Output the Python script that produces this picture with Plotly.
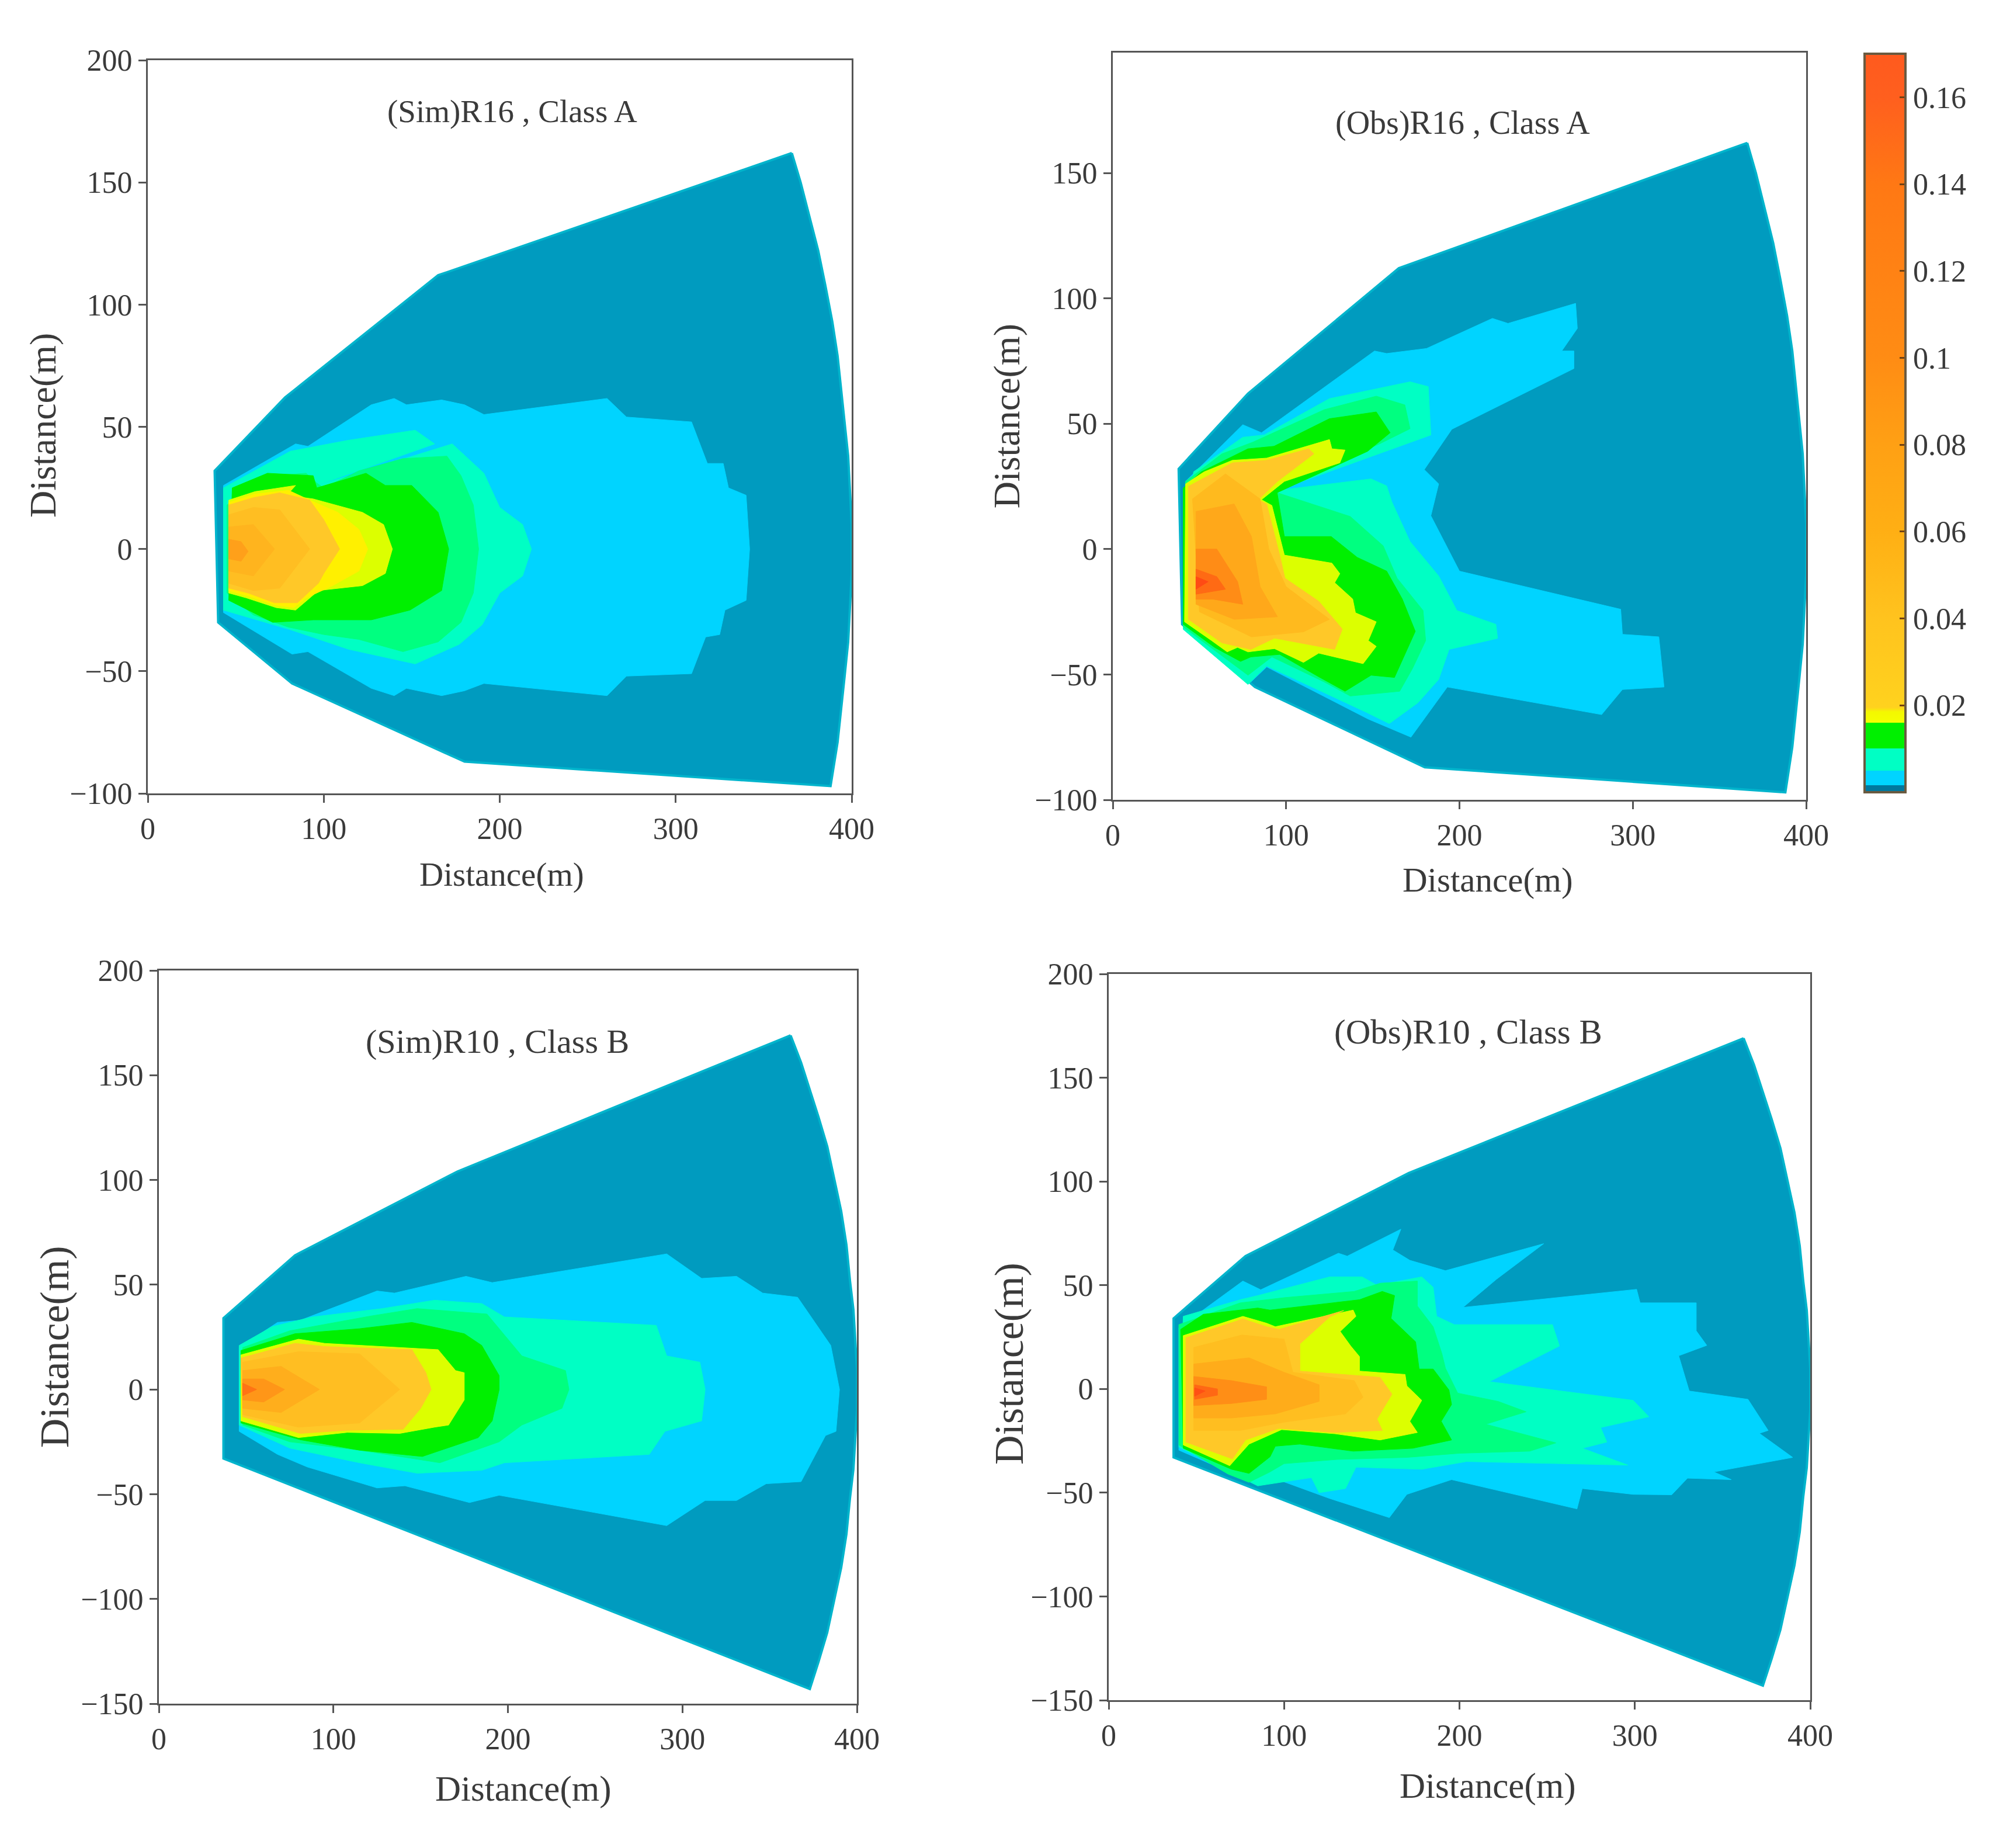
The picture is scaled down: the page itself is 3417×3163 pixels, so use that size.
import plotly.graph_objects as go

FIG_W, FIG_H = 3417, 3163
PAGE_MARGIN = 8
FONT = "Liberation Serif"
TEXT = "#3a3a3a"

# ---------- shared fan outlines (x, y in metres) ----------
ARC_A = [(366,162),(371,150),(376,136),(381,122),(385,108),(389,93),(392,79),(394,66),(396,52),(398,38),(399,24),(400,10),(400,-10),(399,-24),(398,-38),(396,-52),(394,-66),(392,-79),(388,-97)]
ARC_B = [(362,169),(368,156),(373,143),(378,130),(383,116),(387,101),(391,85),(394,69),(396,52),(398,38),(399,24),(400,10),(400,-10),(399,-24),(398,-38),(396,-52),(394,-69),(391,-85),(387,-101),(383,-116),(378,-130),(373,-143)]
FAN_A_LEFT = [(180,-87),(82,-55),(40,-30),(38,32),(78,62),(165,112)]
FAN_B_LEFT = [(37,-33),(37,34),(78,64),(171,104)]

# ---------- (Sim) R16, Class A ----------
A_SIM_CYAN = [(43,26),(84,43),(91,42),(127,59),(140,61.6),(147,59),(167,61),(180,59),(191,55),(261,61.6),(272,54),(309,52),(318,35),(327,35),(330,25),(340,22),(342,0),(340,-21),(328,-25),(325,-35),(317,-36),(309,-51),(272,-52),(261,-60),(191,-55),(180,-58),(167,-60),(147,-57),(140,-60),(127,-57),(91,-42),(82,-43),(43,-26)]
A_SIM_AQUA = [(43,25),(81,40),(114,44.5),(152,48.6),(163,43),(92,25),(173,43),(191,31),(200,17),(213,10),(218,0),(213,-11),(200,-18),(190,-31),(177,-39),(152,-47),(114,-41),(81,-33),(43,-25)]
A_SIM_LIGHT = [(45,18),(55,24),(70,30),(90,31),(96,27),(100,25),(120,32),(145,37),(170,38),(178,30),(185,18),(188,0),(185,-18),(178,-30),(165,-38),(145,-42),(120,-37),(100,-35),(80,-32),(60,-27),(45,-18)]
A_SIM_GREEN = [(48,25),(68,31),(94,30),(96,25),(124,31),(135,26),(150,26),(165,15),(171,0),(167,-17),(149,-25),(127,-29),(94,-29),(71,-30),(46,-21)]
A_SIM_YELLOW = [(46,20),(61,23.5),(84,26),(79,22),(94,20.5),(122,15),(134,10),(139,0),(135,-10),(122,-15),(97,-17),(84,-25),(73,-24),(56,-20),(46,-18)]
A_SIM_YELLOW2 = [(46,19),(61,22.5),(80,24),(92,20),(108,15),(120,8),(125,0),(120,-9),(105,-15),(90,-20),(83,-24),(73,-23),(56,-19),(46,-17)]
A_SIM_GOLD = [(46,18),(60,21),(75,23),(92,20),(100,12),(109,0),(100,-10),(97,-14),(85,-22),(72,-22),(57,-18),(46,-16)]
A_SIM_CORE1 = [(46,14),(60,17),(75,16),(92,0),(75,-16),(60,-17),(46,-14)]
A_SIM_CORE2 = [(46,9),(60,10),(72,0),(60,-11),(46,-9)]
A_SIM_CORE3 = [(46,4),(53,3),(57,-1),(53,-5),(46,-4)]

# ---------- (Obs) R16, Class A ----------
A_OBS_CYAN = [(42,27),(75,49.6),(85.8,46.4),(151,79),(158,78),(181,80),(219,92),(228,90),(267,98),(268,88),(259,79),(266,79),(266,72),(195.6,47.8),(179.7,31.7),(188,26),(183.5,13.3),(200,-8.8),(293,-24),(294,-34),(315,-35),(318,-55),(294,-56),(282,-66),(193,-55),(172,-75),(147.4,-67.8),(88.8,-47),(79.7,-53),(70,-45),(42,-28)]
A_OBS_AQUA = [(46.6,30.8),(75,44.6),(87.3,45.5),(125,60),(171.5,66.7),(182,64.8),(183.5,45.5),(94.8,23.4),(149,28),(158,25.2),(161,18.8),(171.5,3),(188,-10.7),(198.5,-24.5),(221,-30),(222,-35.6),(194,-40),(188,-52),(176,-61.3),(159.5,-69.6),(146,-65),(88.8,-46.6),(78,-54),(40.6,-32)]
A_OBS_LIGHT = [(42,27),(63,38),(81,42.7),(122,55.6),(152,61),(168.5,57.5),(171.5,48),(153.4,41.8),(94.8,24.3),(94.8,22.5),(137,13),(156,1.3),(164,-11.6),(179,-24.5),(180.5,-36.5),(173,-47.5),(165.5,-56.7),(137,-58.6),(122,-53),(91.8,-43),(78,-50.3),(40.6,-31)]
A_OBS_GREEN = [(40.6,24.3),(51,30.8),(78,40),(93,41),(125,52),(152,54.7),(160,46.4),(147,39),(94.8,22.5),(99,5),(126,5),(141,-3.3),(158,-8.8),(167,-19.9),(174.5,-32.8),(168.5,-42),(162.5,-51.2),(149,-50.3),(134,-56.7),(119,-51),(96.3,-42),(79.7,-43),(73.7,-44.8),(58.7,-39.2),(40.6,-30)]
A_OBS_YELLOW = [(42,26),(52.7,30.8),(69,35.4),(88.8,36.3),(125,43.7),(126.4,40),(134,39.5),(131,34.4),(99,27),(85.8,19.7),(91.8,17.4),(99,-2.4),(126.4,-5.6),(131,-9.8),(128,-13.4),(138.4,-19.9),(140,-25.4),(152,-29),(147.4,-36.5),(152,-38.8),(144.4,-45.7),(118.8,-41.5),(110,-45.2),(93.3,-39.7),(78,-41),(72,-39.2),(66,-41),(57,-36.5),(41.4,-29)]
A_OBS_GOLD = [(43.6,25),(69,34.4),(88.8,35.4),(113,40),(116,38),(95,27),(84,19.7),(88.8,17.9),(96.3,-2.4),(99.3,-11.6),(118.8,-20.8),(132.4,-31.9),(128,-40),(93.3,-35.5),(79.7,-40),(63,-37.4),(43.6,-28)]
A_OBS_CORE1 = [(46,20),(65,30),(85,20),(90,0),(100,-15),(125,-28),(110,-33),(80,-35),(50,-25)]
A_OBS_CORE2 = [(48,15),(70,18),(80,5),(85,-15),(95,-27),(70,-28),(48,-22)]
A_OBS_CORE3 = [(48,0),(60,0),(72,-13),(75,-22),(58,-20),(48,-20)]
A_OBS_CORE4 = [(48,-8),(60,-11),(65,-16),(48,-18)]
A_OBS_CORE5 = [(48,-11),(55,-13),(48,-16)]

# ---------- (Sim) R10, Class B ----------
B_SIM_CYAN = [(46,20),(68,32),(81,33),(125,47),(135,46),(176,54),(191,51),(245,58.5),(291,64.7),(311,53),(331,54),(346,46),(366,44),(385,21),(390,0),(388,-20),(382,-22),(368,-44),(348,-45),(331,-53),(313,-53),(291,-65),(245,-58),(195,-50.5),(178,-54),(141,-46),(125,-47),(85,-37),(68,-31),(46,-20)]
B_SIM_AQUA = [(46,21),(65,30),(88,34.6),(128,38.6),(158,42.6),(185,41),(198,34.6),(285,30.6),(291,16),(310,13),(313,0),(311,-15),(290,-20),(281,-31),(198,-35),(185,-38.6),(148,-40),(115,-35),(75,-28),(46,-17)]
B_SIM_LIGHT = [(48,20),(75,28),(121,35),(148,38.6),(188,36),(208,16),(233,9),(235,0),(231,-9),(208,-17),(195,-25),(161,-35),(115,-29),(75,-25),(48,-17)]
B_SIM_GREEN = [(47,18.6),(78,26.6),(115,29),(145,32),(175,26.6),(185,21),(195,6.6),(195,0),(191,-15),(183,-23),(151,-32),(115,-29),(81,-24),(47,-16)]
B_SIM_YELLOW = [(47,16.5),(80,24),(95,22),(160,19),(170,9),(175,8),(175,-5),(166,-17),(158,-18),(138,-21),(108,-20.5),(80,-23),(47,-15)]
B_SIM_GOLD = [(47,15),(78,22),(95,20.5),(145,19),(153,8),(156,0),(150,-9),(140,-19),(108,-19.5),(81,-21),(48,-13)]
B_SIM_CORE1 = [(48,13),(80,18),(115,17),(138,0),(115,-16),(80,-18),(48,-12)]
B_SIM_CORE2 = [(48,9),(70,11),(92,0),(70,-11),(48,-9)]
B_SIM_CORE3 = [(48,5),(60,5),(72,0),(60,-6),(48,-5)]
B_SIM_CORE4 = [(48,3),(56,0),(48,-3)]

# ---------- (Obs) R10, Class B ----------
B_OBS_CYAN = [(40,29.5),(76.5,52),(86.7,47.8),(131,65.4),(136,64),(166.6,77),(162,67),(171.7,62),(192,57),(248,70),(221,52.8),(202,39.3),(301,48),(303,41.5),(335,41.5),(335,28),(341,21),(325,16),(331,-1),(364.5,-5),(376,-20),(371,-21.4),(390,-33),(345,-40),(355,-43.7),(330,-43),(321,-51),(299,-50.8),(270,-48),(267,-57.8),(195.5,-43.7),(170,-50.8),(160,-62),(126,-52.8),(90,-41.7),(85,-46),(40,-29.5)]
B_OBS_AQUA = [(42.5,35),(75,43),(85,45),(126,54),(144.5,54),(153,50),(178.5,54),(185,49),(187,35),(197,31),(253,31),(257,20.7),(217,3.5),(299,-5.5),(308,-13.4),(280.5,-18.6),(284,-25.6),(270,-28.6),(296,-36.7),(204,-35),(178.5,-38.7),(141,-37.7),(135,-48),(120,-50),(115.6,-42.7),(85,-46.7),(40,-28)]
B_OBS_LIGHT = [(40,31),(75,41.5),(100,44),(140,47),(155,51),(176,52),(176,40),(185,30),(190,17),(192,10),(199,-2),(222,-6),(238,-11),(215,-17),(255,-26),(240,-30),(200,-31),(170,-33),(130,-34),(100,-36),(92,-40),(80,-45),(68,-41),(40,-27)]
B_OBS_GREEN = [(41,28.7),(54,36),(85,39),(92,38),(143,43),(156,47),(163,45),(161,34),(175,22.7),(177,9.6),(185,9.6),(194,-0.5),(195.5,-7.5),(189.6,-15.6),(195.5,-24.6),(173.4,-28.6),(139.4,-30),(109,-26.6),(95,-27.6),(92,-32.7),(80,-40.7),(70,-38.7),(42.5,-28.6)]
B_OBS_YELLOW = [(42.5,25.7),(76.5,35),(90,31.7),(95,30),(139.4,38),(141,35),(132,27.7),(138,20.7),(143,15.6),(143,8.6),(169,7),(170,1.5),(178.5,-5.5),(171.7,-15.6),(176,-21),(154.7,-24.6),(129,-21.6),(98.6,-19.6),(80,-26.6),(69,-37),(42.5,-27)]
B_OBS_GOLD = [(44,24.7),(76.5,33.7),(90,30),(97,28.7),(134,37.8),(126,34.7),(109,21.7),(109,8.6),(154.7,5.6),(161.5,-2.5),(153,-14.5),(156,-20),(129,-21),(97,-19),(78,-24.6),(70.5,-33.7),(44,-25.6)]
B_OBS_CORE1 = [(48.5,20),(76,26),(100,24),(105,8),(140,4),(145,-4),(135,-12),(100,-16),(75,-20),(48.5,-20)]
B_OBS_CORE2 = [(48.5,12),(80,15),(100,8),(120,2),(120,-6),(95,-12),(70,-14),(48.5,-14)]
B_OBS_CORE3 = [(48.5,6),(70,4),(90,1),(90,-5),(70,-7),(48.5,-8)]
B_OBS_CORE4 = [(49,2),(62,0),(62,-3),(49,-5)]
B_OBS_CORE5 = [(49,0.5),(55,-1),(49,-3.5)]

# ---------- colours and labels ----------
COL_FAN, COL_FAN_EDGE = "#009BBF", "#00B4CC"
COL_CYAN, COL_AQUA, COL_LIGHT, COL_GREEN = "#00D4FF", "#00FFC4", "#00FF80", "#00F000"
COL_YELLOW, COL_YELLOW2, COL_GOLD = "#DCFF00", "#FFF000", "#FFC828"
CORE_A_SIM = ["#FFBE22", "#FFB41E", "#FFA01A"]
CORE_A_OBS = ["#FFBA1E", "#FFA81A", "#FF8C16", "#FF6A14", "#FF4B14"]
CORE_B_SIM = ["#FFBE22", "#FFAE1C", "#FF9618", "#FF7414"]
CORE_B_OBS = ["#FFBE20", "#FFAC1A", "#FF8E16", "#FF6814", "#FF5014"]

TITLES = ["(Sim)R16 , Class A", "(Obs)R16 , Class A", "(Sim)R10 , Class B", "(Obs)R10 , Class B"]
TITLE_POS = [(207, 179), (202, 170), (194, 166), (205, 172)]
TITLE_SIZES = [55, 56, 58, 59]
X_LABEL_POS = [(394, 687), (1169, 691), (411, 1405), (1169, 1403)]
Y_LABEL_POS = [(34, 334), (791, 327), (43, 1058), (793, 1071)]
X_LABEL_SIZES = [57, 59, 61, 61]
Y_LABEL_SIZES = [64, 64, 70, 70]
OVERVIEW_SCALE = 3417 / 1568
Y_RANGES = [(-100, 200), (-100, 198), (-150, 200), (-150, 200)]
X_TICKS = [0, 100, 200, 300, 400]
Y_TICKS = [[-100, -50, 0, 50, 100, 150, 200], [-100, -50, 0, 50, 100, 150],
           [-150, -100, -50, 0, 50, 100, 150, 200], [-150, -100, -50, 0, 50, 100, 150, 200]]
BOXES = [(253, 1458, 103, 1358), (1905, 3092, 90, 1369), (272, 1467, 1661, 2916), (1898, 3099, 1667, 2910)]

CB_TICKS = [0.02, 0.04, 0.06, 0.08, 0.1, 0.12, 0.14, 0.16]
CB_LABELS = ["0.02", "0.04", "0.06", "0.08", "0.1", "0.12", "0.14", "0.16"]
CB_MAX = 0.17
CB_STOPS = [(0, "#00789E"), (0.0016, "#00789E"), (0.0016, "#00D4FF"), (0.005, "#00D4FF"), (0.005, "#00FFC4"),
            (0.0101, "#00FFC4"), (0.0101, "#00F000"), (0.016, "#00F000"), (0.016, "#F4FF00"), (0.0185, "#F4F800"),
            (0.0195, "#FFD21E"), (0.04, "#FFC31E"), (0.06, "#FFAF14"), (0.08, "#FFA014"), (0.1, "#FF8C14"),
            (0.14, "#FF7814"), (0.16, "#FF5F1E"), (0.17, "#FF5A1E")]

PANELS = [
    (ARC_A, FAN_A_LEFT, [(A_SIM_CYAN, COL_CYAN), (A_SIM_AQUA, COL_AQUA), (A_SIM_LIGHT, COL_LIGHT), (A_SIM_GREEN, COL_GREEN),
                         (A_SIM_YELLOW, COL_YELLOW), (A_SIM_YELLOW2, COL_YELLOW2), (A_SIM_GOLD, COL_GOLD),
                         (A_SIM_CORE1, CORE_A_SIM[0]), (A_SIM_CORE2, CORE_A_SIM[1]), (A_SIM_CORE3, CORE_A_SIM[2])]),
    (ARC_A, FAN_A_LEFT, [(A_OBS_CYAN, COL_CYAN), (A_OBS_AQUA, COL_AQUA), (A_OBS_LIGHT, COL_LIGHT), (A_OBS_GREEN, COL_GREEN),
                         (A_OBS_YELLOW, COL_YELLOW), (A_OBS_GOLD, COL_GOLD),
                         (A_OBS_CORE1, CORE_A_OBS[0]), (A_OBS_CORE2, CORE_A_OBS[1]), (A_OBS_CORE3, CORE_A_OBS[2]), (A_OBS_CORE4, CORE_A_OBS[3]), (A_OBS_CORE5, CORE_A_OBS[4])]),
    (ARC_B, FAN_B_LEFT, [(B_SIM_CYAN, COL_CYAN), (B_SIM_AQUA, COL_AQUA), (B_SIM_LIGHT, COL_LIGHT), (B_SIM_GREEN, COL_GREEN),
                         (B_SIM_YELLOW, COL_YELLOW), (B_SIM_GOLD, COL_GOLD),
                         (B_SIM_CORE1, CORE_B_SIM[0]), (B_SIM_CORE2, CORE_B_SIM[1]), (B_SIM_CORE3, CORE_B_SIM[2]), (B_SIM_CORE4, CORE_B_SIM[3])]),
    (ARC_B, FAN_B_LEFT, [(B_OBS_CYAN, COL_CYAN), (B_OBS_AQUA, COL_AQUA), (B_OBS_LIGHT, COL_LIGHT), (B_OBS_GREEN, COL_GREEN),
                         (B_OBS_YELLOW, COL_YELLOW), (B_OBS_GOLD, COL_GOLD),
                         (B_OBS_CORE1, CORE_B_OBS[0]), (B_OBS_CORE2, CORE_B_OBS[1]), (B_OBS_CORE3, CORE_B_OBS[2]), (B_OBS_CORE4, CORE_B_OBS[3]), (B_OBS_CORE5, CORE_B_OBS[4])]),
]


def closed(points):
    return [p[0] for p in points] + [points[0][0]], [p[1] for p in points] + [points[0][1]]


def paper_x(px):
    return (px - PAGE_MARGIN) / FIG_W


def paper_y(py):
    return 1 - (py - PAGE_MARGIN) / FIG_H


fig = go.Figure()
annotations = []
layout_axes = {}

for i, (arc, left, layers) in enumerate(PANELS):
    suffix = "" if i == 0 else str(i + 1)
    xa, ya = "x" + suffix, "y" + suffix
    fx, fy = closed(arc + left)
    fig.add_trace(go.Scatter(x=fx, y=fy, mode="lines", fill="toself", fillcolor=COL_FAN,
                             line=dict(color=COL_FAN_EDGE, width=4), xaxis=xa, yaxis=ya,
                             showlegend=False, hoverinfo="skip"))
    for pts, col in layers:
        px_, py_ = closed(pts)
        fig.add_trace(go.Scatter(x=px_, y=py_, mode="lines", fill="toself", fillcolor=col,
                                 line=dict(color=col, width=1), xaxis=xa, yaxis=ya,
                                 showlegend=False, hoverinfo="skip"))
    L, R, T, B = BOXES[i]
    axis_style = dict(showgrid=False, zeroline=False, showline=True, linecolor="#555555", linewidth=3,
                      mirror=True, ticks="outside", ticklen=13, tickwidth=3, tickcolor="#555555", automargin=False,
                      tickfont=dict(family=FONT, size=52, color=TEXT))
    layout_axes["xaxis" + suffix] = dict(axis_style, domain=[paper_x(L), paper_x(R)], range=[0, 400],
                                         tickvals=X_TICKS, anchor=ya)
    layout_axes["yaxis" + suffix] = dict(axis_style, domain=[paper_y(B), paper_y(T)], range=list(Y_RANGES[i]),
                                         tickvals=Y_TICKS[i], anchor=xa)
    annotations.append(dict(x=TITLE_POS[i][0], y=TITLE_POS[i][1], xref=xa, yref=ya, text=TITLES[i], showarrow=False,
                            xanchor="center", yanchor="middle", font=dict(family=FONT, size=TITLE_SIZES[i], color=TEXT)))
    annotations.append(dict(x=paper_x(X_LABEL_POS[i][0] * OVERVIEW_SCALE), y=paper_y(X_LABEL_POS[i][1] * OVERVIEW_SCALE),
                            xref="paper", yref="paper", text="Distance(m)", showarrow=False, xanchor="center",
                            yanchor="middle", font=dict(family=FONT, size=X_LABEL_SIZES[i], color=TEXT)))
    annotations.append(dict(x=paper_x(Y_LABEL_POS[i][0] * OVERVIEW_SCALE), y=paper_y(Y_LABEL_POS[i][1] * OVERVIEW_SCALE),
                            xref="paper", yref="paper", text="Distance(m)", showarrow=False, xanchor="center",
                            yanchor="middle", textangle=-90, font=dict(family=FONT, size=Y_LABEL_SIZES[i], color=TEXT)))

# colour bar: a real Plotly colour bar driven by a hidden marker
scale = [[v / CB_MAX, c] for v, c in CB_STOPS]
fig.add_trace(go.Scatter(x=[None], y=[None], mode="markers", showlegend=False, hoverinfo="skip",
                         marker=dict(color=[0], cmin=0, cmax=CB_MAX, colorscale=scale, showscale=True,
                                     colorbar=dict(x=paper_x(3192), xanchor="left", y=paper_y(92), yanchor="top",
                                                   lenmode="pixels", len=1264, thicknessmode="pixels", thickness=70,
                                                   xpad=0, ypad=0, outlinecolor="#6a5a40", outlinewidth=4,
                                                   tickvals=CB_TICKS, ticktext=CB_LABELS,
                                                   ticks="inside", ticklen=12, tickwidth=3, tickcolor="#704010",
                                                   tickfont=dict(family=FONT, size=52, color=TEXT)))))

fig.update_layout(width=FIG_W, height=FIG_H, margin=dict(l=0, r=0, t=0, b=0, autoexpand=False), paper_bgcolor="white",
                  plot_bgcolor="white", showlegend=False, annotations=annotations, **layout_axes)
fig.write_html("out.html")
